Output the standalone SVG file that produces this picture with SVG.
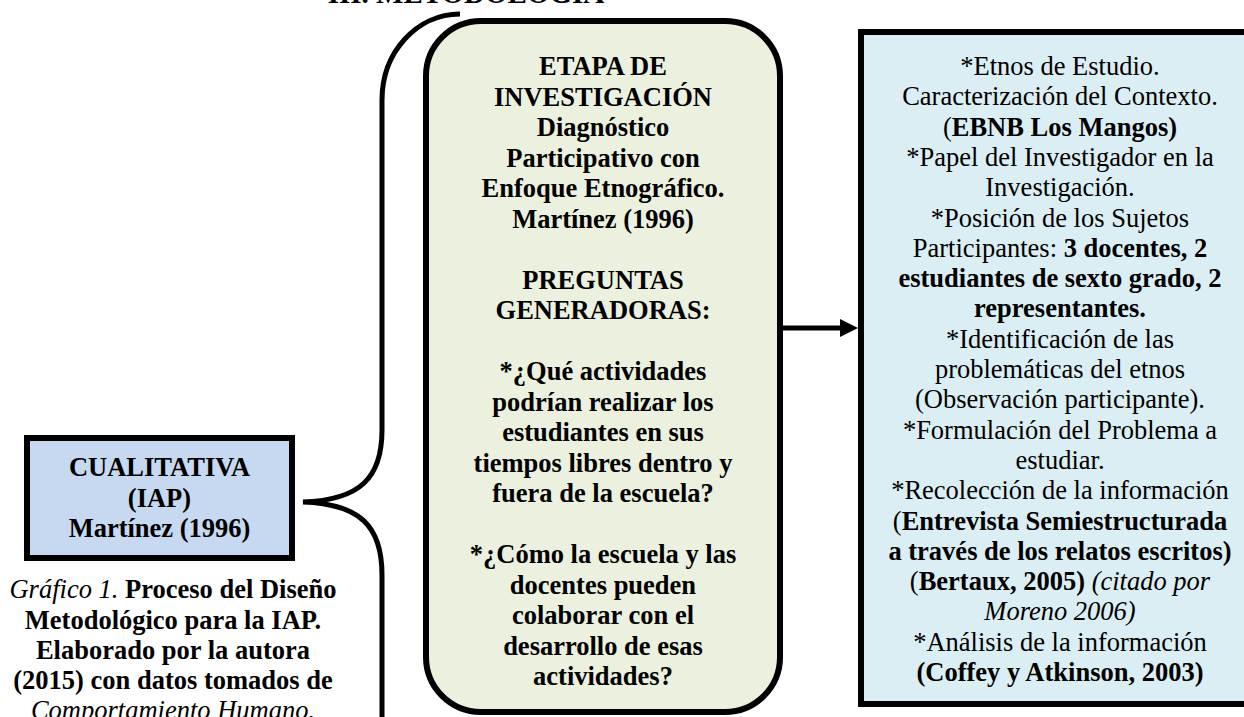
<svg xmlns="http://www.w3.org/2000/svg" width="1244" height="717" viewBox="0 0 1244 717">
  <style>
    text { font-family: "Liberation Serif", "Times New Roman", serif; font-size: 26.5px; fill: #000; text-anchor: middle; }
    .b { font-weight: bold; }
    .i { font-style: italic; }
    .n { font-weight: normal; }
    .box { stroke: #000; stroke-width: 6; }
    .line { fill: none; stroke: #000; stroke-width: 5; }
  </style>
  <defs>
    <marker id="arrow" viewBox="0 0 18 18" refX="2" refY="9" markerWidth="18" markerHeight="18" markerUnits="userSpaceOnUse" orient="auto">
      <path d="M0 0 L18 9 L0 18 Z" fill="#000"/>
    </marker>
  </defs>
  <rect width="1244" height="717" fill="#fff"/>

  <g id="title">
    <text class="b" x="466" y="3" style="font-size:29px">III. METODOLOGÍA</text>
  </g>

  <g id="connectors">
    <path class="line" d="M460 14 C417 14 382 52 382 100 L382 430 C382 478 360 500 303 502 C360 504 382 526 382 575 L382 722"/>
    <path class="line" d="M783 328 H842" marker-end="url(#arrow)"/>
  </g>

  <g id="node-cualitativa">
    <rect class="box" x="27" y="438" width="265" height="120" fill="#c6d9f1"/>
    <text class="b" x="159.5" y="476">CUALITATIVA</text>
    <text class="b" x="159.5" y="507">(IAP)</text>
    <text class="b" x="159.5" y="537">Martínez (1996)</text>
  </g>

  <g id="caption">
    <text x="173" y="598"><tspan class="i">Gráfico 1.</tspan><tspan class="b"> Proceso del Diseño</tspan></text>
    <text class="b" x="173" y="629">Metodológico para la IAP.</text>
    <text class="b" x="173" y="659">Elaborado por la autora</text>
    <text class="b" x="173" y="689">(2015) con datos tomados de</text>
    <text class="i" x="173" y="719">Comportamiento Humano.</text>
  </g>

  <g id="node-etapa">
    <rect class="box" x="426" y="21" width="354" height="691" rx="55" ry="55" fill="#ebf1de"/>
    <text class="b" x="603" y="75">ETAPA DE</text>
    <text class="b" x="603" y="105.5">INVESTIGACIÓN</text>
    <text class="b" x="603" y="136">Diagnóstico</text>
    <text class="b" x="603" y="166.5">Participativo con</text>
    <text class="b" x="603" y="197">Enfoque Etnográfico.</text>
    <text class="b" x="603" y="227.5">Martínez (1996)</text>
    <text class="b" x="603" y="288.5">PREGUNTAS</text>
    <text class="b" x="603" y="319">GENERADORAS:</text>
    <text class="b" x="603" y="380">*¿Qué actividades</text>
    <text class="b" x="603" y="410.5">podrían realizar los</text>
    <text class="b" x="603" y="441">estudiantes en sus</text>
    <text class="b" x="603" y="471.5">tiempos libres dentro y</text>
    <text class="b" x="603" y="502">fuera de la escuela?</text>
    <text class="b" x="603" y="563">*¿Cómo la escuela y las</text>
    <text class="b" x="603" y="593.5">docentes pueden</text>
    <text class="b" x="603" y="624">colaborar con el</text>
    <text class="b" x="603" y="654.5">desarrollo de esas</text>
    <text class="b" x="603" y="685">actividades?</text>
  </g>

  <g id="node-actividades">
    <rect class="box" x="861" y="32" width="401" height="672" fill="#daeef3"/>
    <text x="1060" y="75">*Etnos de Estudio.</text>
    <text x="1060" y="105.3">Caracterización del Contexto.</text>
    <text x="1060" y="135.6">(<tspan class="b">EBNB Los Mangos)</tspan></text>
    <text x="1060" y="165.9">*Papel del Investigador en la</text>
    <text x="1060" y="196.2">Investigación.</text>
    <text x="1060" y="226.5">*Posición de los Sujetos</text>
    <text x="1060" y="256.8">Participantes: <tspan class="b">3 docentes, 2</tspan></text>
    <text class="b" x="1060" y="287.1">estudiantes de sexto grado, 2</text>
    <text class="b" x="1060" y="317.4">representantes.</text>
    <text x="1060" y="347.7">*Identificación de las</text>
    <text x="1060" y="378">problemáticas del etnos</text>
    <text x="1060" y="408.3">(Observación participante).</text>
    <text x="1060" y="438.6">*Formulación del Problema a</text>
    <text x="1060" y="468.9">estudiar.</text>
    <text x="1060" y="499.2">*Recolección de la información</text>
    <text x="1060" y="529.5">(<tspan class="b">Entrevista Semiestructurada</tspan></text>
    <text class="b" x="1060" y="559.8">a través de los relatos escritos)</text>
    <text x="1060" y="590.1">(<tspan class="b">Bertaux, 2005)</tspan> <tspan class="i">(citado por</tspan></text>
    <text class="i" x="1060" y="620.4">Moreno 2006)</text>
    <text x="1060" y="650.7">*Análisis de la información</text>
    <text class="b" x="1060" y="681">(Coffey y Atkinson, 2003)</text>
  </g>
</svg>
